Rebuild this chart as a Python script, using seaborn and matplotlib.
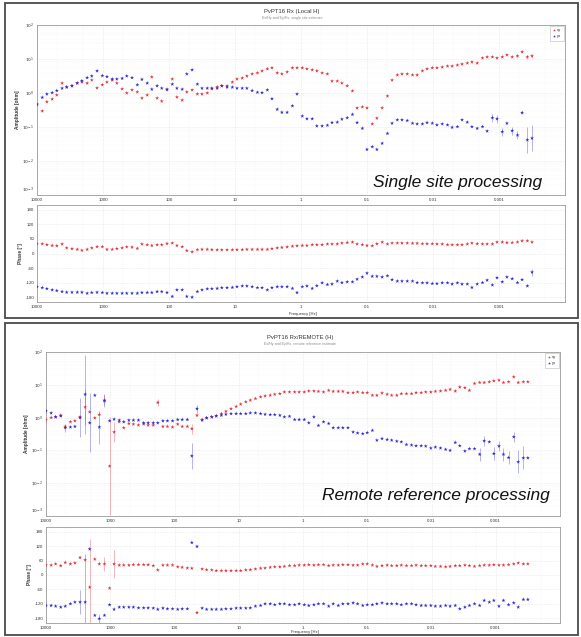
import numpy as np
import pandas as pd
import matplotlib
matplotlib.use("Agg")
import matplotlib.pyplot as plt
from matplotlib.patches import Rectangle
from matplotlib.ticker import FixedLocator, LogLocator, NullFormatter
import seaborn as sns

# frequency grid (log10 Hz), shared by both processings
log_freq = [4.00, 3.92, 3.85, 3.77, 3.70, 3.62, 3.55, 3.47, 3.39, 3.32,
            3.24, 3.17, 3.09, 3.01, 2.94, 2.86, 2.79, 2.71, 2.64, 2.56,
            2.48, 2.41, 2.33, 2.26, 2.18, 2.11, 2.03, 1.95, 1.88, 1.80,
            1.73, 1.65, 1.57, 1.50, 1.42, 1.35, 1.27, 1.20, 1.12, 1.04,
            0.97, 0.89, 0.82, 0.74, 0.66, 0.59, 0.51, 0.44, 0.36, 0.29,
            0.21, 0.13, 0.06, -0.02, -0.09, -0.17, -0.24, -0.32, -0.40, -0.47,
            -0.55, -0.62, -0.70, -0.78, -0.85, -0.93, -1.00, -1.08, -1.15, -1.23,
            -1.31, -1.38, -1.46, -1.53, -1.61, -1.69, -1.76, -1.84, -1.91, -1.99,
            -2.06, -2.14, -2.22, -2.29, -2.37, -2.44, -2.52, -2.59, -2.67, -2.75,
            -2.82, -2.90, -2.97, -3.05, -3.12, -3.20, -3.28, -3.35, -3.43, -3.50]

# ---- single site (local H): log10 amplitude, phase in degrees ----
ss_amp_xy = [-0.35, -0.53, -0.26, -0.18, -0.06, 0.29, 0.18, 0.21, 0.29, 0.32,
             0.29, 0.38, 0.15, 0.24, 0.32, 0.38, 0.29, 0.12, 0.00, 0.09,
             0.03, -0.15, -0.06, 0.47, -0.15, -0.24, 0.09, 0.41, -0.12, -0.21,
             0.03, 0.09, -0.03, -0.03, 0.00, 0.12, 0.18, 0.21, 0.21, 0.32,
             0.41, 0.44, 0.50, 0.56, 0.59, 0.65, 0.71, 0.74, 0.59, 0.56,
             0.62, 0.74, 0.74, 0.74, 0.71, 0.68, 0.65, 0.59, 0.56, 0.35,
             0.35, 0.29, 0.21, 0.06, -0.44, -0.41, -0.44, -0.91, -0.74, -0.44,
             -0.09, 0.38, 0.53, 0.56, 0.56, 0.53, 0.53, 0.65, 0.71, 0.74,
             0.74, 0.76, 0.79, 0.79, 0.82, 0.85, 0.88, 0.91, 0.88, 1.03,
             1.06, 1.06, 1.03, 1.06, 1.12, 1.06, 1.09, 1.21, 1.06, 1.09]
ss_amp_yx = [-0.33, -0.13, -0.03, 0.01, 0.07, 0.14, 0.17, 0.21, 0.29, 0.36,
             0.45, 0.50, 0.65, 0.51, 0.48, 0.41, 0.41, 0.43, 0.50, 0.45,
             0.24, 0.40, 0.29, 0.11, 0.21, 0.14, 0.11, 0.26, 0.14, 0.11,
             0.56, 0.68, 0.26, 0.14, 0.14, 0.14, 0.14, 0.21, 0.17, 0.17,
             0.14, 0.14, 0.14, 0.07, 0.02, 0.01, 0.09, -0.17, -0.48, -0.57,
             -0.57, -0.38, -0.03, -0.68, -0.76, -0.76, -0.97, -0.97, -0.95, -0.87,
             -0.86, -0.77, -0.73, -0.63, -0.87, -1.04, -1.66, -1.58, -1.66, -1.48,
             -1.19, -0.89, -0.79, -0.79, -0.81, -0.89, -0.91, -0.91, -0.87, -0.89,
             -0.94, -0.91, -0.94, -1.01, -0.99, -0.79, -0.86, -0.99, -1.04, -0.99,
             -1.12, -0.73, -0.76, -1.14, -0.89, -1.11, -1.24, -0.58, -1.38, -1.33]
ss_phase_xy = [40, 40, 36, 33, 32, 39, 23, 20, 17, 13,
               17, 23, 28, 28, 17, 17, 20, 23, 27, 26,
               21, 39, 36, 33, 36, 36, 41, 43, 33, 28,
               12, 7, 16, 17, 17, 16, 15, 15, 15, 15,
               16, 16, 17, 17, 17, 17, 17, 20, 23, 25,
               27, 30, 32, 33, 33, 36, 36, 36, 39, 39,
               39, 43, 45, 47, 39, 36, 33, 32, 40, 47,
               39, 43, 43, 43, 43, 42, 42, 40, 40, 40,
               39, 39, 36, 36, 36, 36, 39, 43, 40, 39,
               39, 39, 47, 47, 45, 45, 47, 52, 52, 47]
ss_phase_yx = [-137, -141, -145, -150, -153, -157, -160, -160, -160, -160,
               -164, -161, -160, -161, -164, -164, -164, -164, -164, -164,
               -164, -161, -161, -161, -157, -157, -161, -177, -150, -150,
               -177, -180, -157, -150, -146, -145, -144, -141, -141, -140,
               -137, -134, -134, -137, -141, -141, -150, -141, -137, -137,
               -137, -144, -161, -137, -134, -144, -133, -121, -128, -126,
               -114, -120, -117, -117, -106, -97, -81, -94, -94, -97,
               -92, -108, -114, -114, -114, -114, -120, -121, -121, -124,
               -124, -121, -121, -126, -121, -126, -126, -140, -126, -120,
               -110, -130, -100, -117, -97, -104, -120, -108, -134, -77]
# sparse error bars: (index, half width)
ss_amp_yx_err = [(91, 0.12), (92, 0.12), (93, 0.12), (95, 0.12), (96, 0.12),
                 (97, 0.05), (98, 0.38), (99, 0.38)]
ss_amp_xy_err = [(96, 0.05), (97, 0.04), (98, 0.05), (99, 0.05)]
ss_phase_yx_err = [(99, 15)]
ss_phase_xy_err = []

# ---- remote reference ----
rr_amp_xy = [-0.06, 0.00, 0.02, 0.07, -0.27, -0.13, -0.10, 0.02, 0.32, 0.17,
             -0.01, 0.09, 0.53, -1.48, -0.44, -0.13, -0.31, -0.18, -0.20, -0.23,
             -0.20, -0.23, -0.23, 0.46, -0.27, -0.27, -0.29, -0.20, -0.27, -0.27,
             -0.34, 0.07, -0.06, -0.01, 0.02, 0.05, 0.12, 0.19, 0.27, 0.34,
             0.41, 0.48, 0.53, 0.58, 0.63, 0.66, 0.68, 0.71, 0.73, 0.78,
             0.78, 0.78, 0.78, 0.78, 0.81, 0.81, 0.80, 0.78, 0.83, 0.80,
             0.80, 0.80, 0.76, 0.76, 0.78, 0.76, 0.76, 0.68, 0.68, 0.75,
             0.71, 0.68, 0.68, 0.73, 0.73, 0.73, 0.76, 0.76, 0.78, 0.78,
             0.80, 0.81, 0.83, 0.86, 0.81, 0.93, 0.91, 0.83, 1.04, 1.07,
             1.07, 1.09, 1.12, 1.14, 1.07, 1.09, 1.24, 1.07, 1.09, 1.09]
rr_amp_yx = [0.20, 0.14, 0.02, 0.05, -0.31, -0.29, -0.27, 0.00, 0.71, -0.16,
             0.68, -0.29, 0.51, -0.10, -0.05, -0.08, -0.13, -0.08, -0.08, -0.08,
             -0.16, -0.16, -0.16, -0.16, -0.10, -0.10, -0.10, -0.06, -0.06, -0.06,
             -1.17, 0.27, -0.08, -0.01, 0.02, 0.05, 0.07, 0.10, 0.12, 0.12,
             0.12, 0.12, 0.14, 0.14, 0.12, 0.10, 0.09, 0.09, 0.07, 0.02,
             0.04, -0.06, -0.06, -0.06, -0.16, 0.02, -0.24, -0.13, -0.18, -0.31,
             -0.31, -0.31, -0.31, -0.44, -0.47, -0.49, -0.46, -0.39, -0.69, -0.64,
             -0.67, -0.69, -0.72, -0.74, -0.82, -0.84, -0.86, -0.86, -0.87, -0.93,
             -0.90, -0.93, -0.97, -1.00, -0.76, -0.86, -1.02, -0.95, -0.95, -1.12,
             -0.71, -0.74, -1.10, -0.87, -1.12, -1.22, -0.59, -1.35, -1.23, -1.23]
rr_phase_xy = [41, 41, 46, 39, 52, 46, 50, 73, 63, -51,
               66, 46, 46, -55, 46, 41, 41, 41, 43, 43,
               43, 43, 39, 21, 41, 41, 41, 34, 32, 29,
               28, -157, 25, 22, 21, 18, 18, 18, 18, 18,
               18, 21, 22, 25, 28, 29, 32, 34, 34, 36,
               39, 39, 41, 41, 43, 41, 43, 43, 39, 41,
               41, 43, 43, 41, 41, 46, 46, 41, 36, 39,
               41, 39, 39, 41, 39, 39, 41, 39, 39, 39,
               36, 36, 34, 36, 39, 39, 41, 39, 36, 39,
               41, 41, 43, 41, 41, 43, 46, 50, 46, 46]
rr_phase_yx = [-127, -127, -130, -134, -130, -120, -113, -113, -113, 108,
               -168, -182, -168, -124, -143, -134, -134, -134, -134, -137,
               -137, -137, -138, -143, -138, -141, -141, -143, -141, -141,
               135, 119, -138, -143, -143, -143, -143, -141, -141, -138,
               -138, -138, -137, -130, -127, -120, -120, -124, -120, -120,
               -124, -124, -120, -124, -127, -124, -120, -120, -130, -120,
               -127, -120, -120, -116, -120, -127, -124, -124, -120, -116,
               -120, -120, -120, -124, -120, -120, -124, -127, -127, -127,
               -130, -130, -127, -130, -127, -141, -134, -127, -120, -127,
               -106, -113, -106, -130, -106, -124, -116, -134, -102, -102]
rr_amp_yx_err = [(0, 0.1), (4, 0.13), (7, 0.6), (8, 1.2), (9, 0.9), (11, 0.5),
                 (12, 0.2), (30, 0.4), (31, 0.12), (89, 0.2), (90, 0.15),
                 (92, 0.2), (93, 0.15), (94, 0.2), (95, 0.2), (96, 0.15),
                 (97, 0.35), (98, 0.35)]
rr_amp_xy_err = [(8, 0.55), (12, 0.15), (13, 1.5), (14, 0.3), (23, 0.1), (30, 0.15)]
rr_phase_yx_err = [(7, 50), (8, 200), (11, 20)]
rr_phase_xy_err = [(9, 200), (12, 30), (14, 60)]

freq = 10 ** np.array(log_freq)

sns.set_theme(style="white")
plt.rcParams['font.family'] = ['Liberation Sans', 'DejaVu Sans']

RED = '#e2323e'
BLUE = '#2b2bd4'
W, H = 581, 637


def frame(vals_xy, vals_yx, amp):
    a = np.array(vals_xy, dtype=float)
    b = np.array(vals_yx, dtype=float)
    if amp:
        a, b = 10 ** a, 10 ** b
    return pd.DataFrame({'freq': np.concatenate([freq[:len(a)], freq[:len(b)]]),
                         'value': np.concatenate([a, b]),
                         'comp': ['xy'] * len(a) + ['yx'] * len(b)})


def errbars(ax, vals, errs, color, amp):
    if not errs:
        return
    idx = [e[0] for e in errs]
    half = np.array([e[1] for e in errs], dtype=float)
    v = np.array(vals, dtype=float)[idx]
    if amp:
        y = 10 ** v
        lo, hi = y - 10 ** (v - half), 10 ** (v + half) - y
    else:
        y = v
        lo, hi = half, half
    ax.errorbar(freq[idx], y, yerr=[lo, hi], fmt='none', ecolor=color,
                elinewidth=0.6, alpha=0.4, capsize=0)


def axes_px(x0, y0, x1, y1):
    return fig.add_axes([x0 / W, 1 - y1 / H, (x1 - x0) / W, (y1 - y0) / H])


def style_x(ax):
    ax.set_xscale('log')
    ax.set_xlim(1e4, 1e-4)
    ax.xaxis.set_major_locator(FixedLocator([1e4, 1e3, 1e2, 1e1, 1, 0.1, 0.01, 0.001, 0.0001]))
    ax.set_xticklabels(['10000', '1000', '100', '10', '1', '0.1', '0.01', '0.001', ''])
    ax.xaxis.set_minor_locator(LogLocator(base=10, subs=(2, 5), numticks=20))
    ax.xaxis.set_minor_formatter(NullFormatter())
    ax.tick_params(axis='both', which='major', labelsize=3.2, length=1.2, width=0.4,
                   pad=0.8, colors='#333333')
    ax.tick_params(axis='x', which='major', pad=0.8)
    ax.tick_params(axis='both', which='minor', length=0)
    ax.grid(True, which='major', color='#d8d8d8', lw=0.4, ls=':')
    ax.grid(True, which='minor', color='#ececec', lw=0.3, ls=':')
    for s in ax.spines.values():
        s.set_color('#9a9a9a')
        s.set_linewidth(0.6)


def draw_amp(ax, a_xy, a_yx, e_xy, e_yx):
    df = frame(a_xy, a_yx, True)
    sns.scatterplot(data=df, x='freq', y='value', hue='comp', palette={'xy': RED, 'yx': BLUE},
                    marker='*', s=9, linewidth=0, ax=ax, legend=True, zorder=3)
    errbars(ax, a_xy, e_xy, RED, True)
    errbars(ax, a_yx, e_yx, BLUE, True)
    style_x(ax)
    ax.set_yscale('log')
    ax.set_ylim(1e-3, 1e2)
    ax.yaxis.set_major_locator(FixedLocator([1e-3, 1e-2, 1e-1, 1, 1e1, 1e2]))
    ax.set_yticklabels(['$10^{-3}$', '$10^{-2}$', '$10^{-1}$', '$10^{0}$', '$10^{1}$', '$10^{2}$'])
    ax.get_yticklabels()[0].set_va('bottom')
    ax.yaxis.set_minor_formatter(NullFormatter())
    ax.tick_params(axis='y', which='minor', length=0)
    ax.set_xlabel('')
    ax.set_ylabel('Amplitude [ohm]', fontsize=3.4, labelpad=2, fontweight='bold', color='#333333')
    leg = ax.legend(loc='upper right', fontsize=3, markerscale=0.7, handlelength=0.8,
                    handletextpad=0.5, borderpad=0.5, labelspacing=0.5, frameon=True,
                    fancybox=False, borderaxespad=0.3)
    leg.get_frame().set_edgecolor('#aaaaaa')
    leg.get_frame().set_linewidth(0.4)


def draw_phase(ax, p_xy, p_yx, e_xy, e_yx):
    df = frame(p_xy, p_yx, False)
    sns.scatterplot(data=df, x='freq', y='value', hue='comp', palette={'xy': RED, 'yx': BLUE},
                    marker='*', s=9, linewidth=0, ax=ax, legend=False, zorder=3)
    errbars(ax, p_xy, e_xy, RED, False)
    errbars(ax, p_yx, e_yx, BLUE, False)
    style_x(ax)
    ax.set_ylim(-200, 200)
    ax.set_yticks([-180, -120, -60, 0, 60, 120, 180])
    ax.set_yticklabels(['-180', '-120', '-60', '0', '60', '120', '180'])
    ax.set_xlabel('')
    ax.set_ylabel('Phase [°]', fontsize=3.4, labelpad=2, fontweight='bold', color='#333333')


fig = plt.figure(figsize=(W / 100, H / 100), dpi=100)

# panel frames
for (x0, y0, x1, y1) in [(5, 3, 578, 318), (5, 323, 578, 635)]:
    fig.patches.append(Rectangle((x0 / W, 1 - y1 / H), (x1 - x0) / W, (y1 - y0) / H,
                                 transform=fig.transFigure, fill=False,
                                 edgecolor='#4a4a4a', linewidth=1.3))

# single site processing
ax1 = axes_px(37, 25, 565, 195)
draw_amp(ax1, ss_amp_xy, ss_amp_yx, ss_amp_xy_err, ss_amp_yx_err)
ax2 = axes_px(37, 205, 565, 302)
draw_phase(ax2, ss_phase_xy, ss_phase_yx, ss_phase_xy_err, ss_phase_yx_err)
fig.text(292 / W, 1 - 12 / H, 'PvPT16 Rx (Local H)', ha='center', va='center',
         fontsize=4.2, color='#333333')
fig.text(292 / W, 1 - 18 / H, 'Ex/Hy and Ey/Hx, single site estimate', ha='center',
         va='center', fontsize=2.6, color='#888888')
fig.text(303 / W, 1 - 313.5 / H, 'Frequency [Hz]', ha='center', va='center',
         fontsize=3.0, color='#333333')
fig.text(542 / W, 1 - 187 / H, 'Single site processing', ha='right', va='baseline',
         fontsize=12.5, style='italic', color='#111111')

# remote reference processing
ax3 = axes_px(46, 352, 560, 516)
draw_amp(ax3, rr_amp_xy, rr_amp_yx, rr_amp_xy_err, rr_amp_yx_err)
ax4 = axes_px(46, 527, 560, 623)
draw_phase(ax4, rr_phase_xy, rr_phase_yx, rr_phase_xy_err, rr_phase_yx_err)
fig.text(300 / W, 1 - 338 / H, 'PvPT16 Rx/REMOTE (H)', ha='center', va='center',
         fontsize=4.2, color='#333333')
fig.text(300 / W, 1 - 344 / H, 'Ex/Hy and Ey/Hx, remote reference estimate', ha='center',
         va='center', fontsize=2.6, color='#888888')
fig.text(305 / W, 1 - 632.5 / H, 'Frequency [Hz]', ha='center', va='center',
         fontsize=3.0, color='#333333')
fig.text(550 / W, 1 - 500 / H, 'Remote reference processing', ha='right', va='baseline',
         fontsize=12.5, style='italic', color='#111111')

fig.savefig('out.png', dpi=100)
